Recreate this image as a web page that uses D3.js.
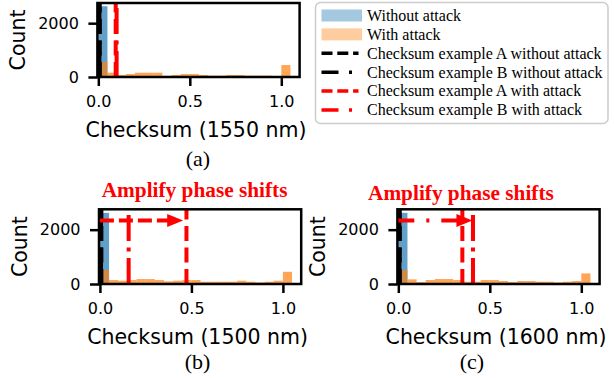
<!DOCTYPE html>
<html><head><meta charset="utf-8">
<script src="https://cdn.jsdelivr.net/npm/d3@7"></script>
<style>body{margin:0;background:#fff} svg{display:block}</style>
</head><body><svg id="c" width="614" height="378"></svg>
<script>
// ---------- data ----------
const binStarts = [0, 0.05, 0.1, 0.15, 0.2, 0.25, 0.3, 0.35, 0.4, 0.45, 0.5,
                   0.55, 0.6, 0.65, 0.7, 0.75, 0.8, 0.85, 0.9, 0.95, 1.0];
const binWidth = 0.05;

const withoutAttack1550 = [2630, 0, 0, 0, 0, 0, 0, 0, 0, 0, 0, 0, 0, 0, 0, 0, 0, 0, 0, 0, 0];
const withoutAttack1500 = [2620, 0, 0, 0, 0, 0, 0, 0, 0, 0, 0, 0, 0, 0, 0, 0, 0, 0, 0, 0, 0];
const withoutAttack1600 = [2620, 0, 0, 0, 0, 0, 0, 0, 0, 0, 0, 0, 0, 0, 0, 0, 0, 0, 0, 0, 0];

const withAttack1550 = [560, 160, 74, 111, 160, 160, 160, 45, 74, 111, 111, 74, 50, 50, 74, 74, 50, 50, 50, 30, 444];
const withAttack1500 = [512, 146, 122, 146, 183, 183, 146, 98, 122, 146, 146, 85, 85, 85, 85, 122, 85, 61, 85, 122, 450];
const withAttack1600 = [512, 171, 73, 146, 183, 183, 146, 85, 85, 146, 146, 110, 73, 110, 110, 85, 85, 61, 85, 110, 390];

// checksum example positions (panel a, b, c)
const exampleAWithout = [0.008, 0.008, 0.008];
const exampleBWithout = [0.006, 0.006, 0.006];
const exampleAWith    = [0.095, 0.473, 0.350];
const exampleBWith    = [0.100, 0.157, 0.408];

// arrows (panels b, c): from checksum to checksum at given count level
const arrowFrom  = [0.0, 0.0];
const arrowTo    = [0.455, 0.405];
const arrowLevel = [2340, 2340];
const arrowTitle = "Amplify phase shifts";

const yTicks = [0, 2000];
const yTickLabels = ["0", "2000"];
const xTicks = [0, 0.5, 1.0];
const xTickLabels = ["0.0", "0.5", "1.0"];
const xDomain = [-0.005, 1.1];
const yDomain = [0, 2750];

const yLabel = "Count";
const xLabels = ["Checksum (1550 nm)", "Checksum (1500 nm)", "Checksum (1600 nm)"];
const panelLabels = ["(a)", "(b)", "(c)"];

const legendLabels = ["Without attack", "With attack",
  "Checksum example A without attack", "Checksum example B without attack",
  "Checksum example A with attack", "Checksum example B with attack"];

// ---------- styling / layout ----------
const SANS = "DejaVu Sans", SERIF = "Liberation Serif";
const C_BLUE = "#1f77b4", C_ORANGE = "#ff7f0e", C_RED = "#ff0000";
const DASHED = "15,6.5", DASHDOT = "26,6.5,4,6.5";

const layout = [
  {L: 97.4, R: 299.6, T: 3,     B: 77,  lab: [198, 165.5], title: null},
  {L: 99.0, R: 301.2, T: 209.3, B: 284, lab: [197.5, 369], title: [101.7, 196.5], arrowDash: "14,5"},
  {L: 397.4, R: 599.6, T: 209.3, B: 284, lab: [472, 369], title: [368, 199.5], arrowDash: "16,12,3,12"}
];
const withoutSets = [withoutAttack1550, withoutAttack1500, withoutAttack1600];
const withSets = [withAttack1550, withAttack1500, withAttack1600];

const svg = d3.select("#c");
svg.append("rect").attr("width", 614).attr("height", 378).attr("fill", "#fff");

layout.forEach((p, i) => {
  const x = d3.scaleLinear().domain(xDomain).range([p.L, p.R]);
  const y = d3.scaleLinear().domain(yDomain).range([p.B, p.T]);
  const g = svg.append("g");

  const drawHist = (counts, color) => {
    g.append("g").selectAll("rect").data(binStarts.map((s, k) => ({s, c: counts[k]})))
      .join("rect")
      .attr("x", d => x(d.s))
      .attr("width", d => x(d.s + binWidth) - x(d.s))
      .attr("y", d => y(d.c))
      .attr("height", d => y(0) - y(d.c))
      .attr("fill", color).attr("fill-opacity", 0.7);
  };
  drawHist(withoutSets[i], C_BLUE);
  drawHist(withSets[i], C_ORANGE);

  const vline = (v, color, dash) => {
    g.append("line").attr("x1", x(v)).attr("x2", x(v))
      .attr("y1", y.range()[0]).attr("y2", y.range()[1])
      .attr("stroke", color).attr("stroke-width", 4)
      .attr("stroke-dasharray", dash);
  };
  vline(exampleAWithout[i], "#000", DASHED);
  vline(exampleBWithout[i], "#000", DASHDOT);
  vline(exampleAWith[i], C_RED, DASHED);
  vline(exampleBWith[i], C_RED, DASHDOT);

  // axes
  const ax = g.append("g").attr("transform", `translate(${p.L},0)`)
    .call(d3.axisLeft(y).tickValues(yTicks).tickSize(9).tickPadding(9.5)
      .tickFormat((d, k) => yTickLabels[k]));
  const bx = g.append("g").attr("transform", `translate(0,${p.B})`)
    .call(d3.axisBottom(x).tickValues(xTicks).tickSize(9).tickPadding(10)
      .tickFormat((d, k) => xTickLabels[k]));
  [ax, bx].forEach(a => {
    a.select(".domain").remove();
    a.selectAll(".tick line").attr("stroke", "#000").attr("stroke-width", 2.5);
    a.selectAll(".tick text").attr("fill", "#000")
      .style("font-family", SANS).style("font-size", "16px");
  });

  // spines
  g.append("rect").attr("x", p.L).attr("y", p.T)
    .attr("width", p.R - p.L).attr("height", p.B - p.T)
    .attr("fill", "none").attr("stroke", "#000").attr("stroke-width", 2.5);

  // arrow + title
  if (i > 0) {
    const k = i - 1;
    const ay = y(arrowLevel[k]);
    const x0 = x(arrowFrom[k]), x1 = x(arrowTo[k]);
    const headL = 16, headW = 6.5;
    g.append("line").attr("x1", x0).attr("x2", x1 - headL + 1)
      .attr("y1", ay).attr("y2", ay)
      .attr("stroke", C_RED).attr("stroke-width", 4)
      .attr("stroke-dasharray", p.arrowDash);
    g.append("path")
      .attr("d", `M${x1},${ay} L${x1 - headL},${ay - headW} L${x1 - headL},${ay + headW} Z`)
      .attr("fill", C_RED);
    svg.append("text").attr("x", p.title[0]).attr("y", p.title[1])
      .attr("fill", C_RED).style("font-family", SERIF).style("font-weight", "bold")
      .style("font-size", "21.3px").text(arrowTitle);
  }

  // labels
  const cy = (p.T + p.B) / 2;
  svg.append("text").attr("transform", `translate(${p.L - 72.4},${cy}) rotate(-90)`)
    .attr("text-anchor", "middle").style("font-family", SANS).style("font-size", "20.5px")
    .text(yLabel);
  svg.append("text").attr("x", (p.L + p.R) / 2 - 2.5).attr("y", p.B + 60)
    .attr("text-anchor", "middle").style("font-family", SANS).style("font-size", "20.5px")
    .text(xLabels[i]);
  svg.append("text").attr("x", p.lab[0]).attr("y", p.lab[1])
    .attr("text-anchor", "middle").style("font-family", SERIF).style("font-size", "22px")
    .text(panelLabels[i]);
});

// ---------- legend ----------
const lg = svg.append("g");
lg.append("rect").attr("x", 315.5).attr("y", 2.5).attr("width", 292.5).attr("height", 121)
  .attr("rx", 5).attr("fill", "#fff").attr("stroke", "#cccccc").attr("stroke-width", 1.5);
const legendKinds = [
  {type: "patch", color: "#a5c8e1"},
  {type: "patch", color: "#ffcc9f"},
  {type: "line", color: "#000", dash: "11,4.8"},
  {type: "line", color: "#000", dash: "17,10.5,3,40"},
  {type: "line", color: C_RED, dash: "11,4.8"},
  {type: "line", color: C_RED, dash: "17,10.5,3,40"}
];
legendLabels.forEach((t, k) => {
  const cy = 15.5 + 18.9 * k;
  const kind = legendKinds[k];
  if (kind.type === "patch") {
    lg.append("rect").attr("x", 321.5).attr("y", cy - 6).attr("width", 40.5).attr("height", 12)
      .attr("fill", kind.color);
  } else {
    lg.append("line").attr("x1", 321.5).attr("x2", 358.5).attr("y1", cy).attr("y2", cy)
      .attr("stroke", kind.color).attr("stroke-width", 3.5).attr("stroke-dasharray", kind.dash);
  }
  lg.append("text").attr("x", 367).attr("y", cy + 5.3)
    .style("font-family", SERIF).style("font-size", "16px").text(t);
});
</script></body></html>
